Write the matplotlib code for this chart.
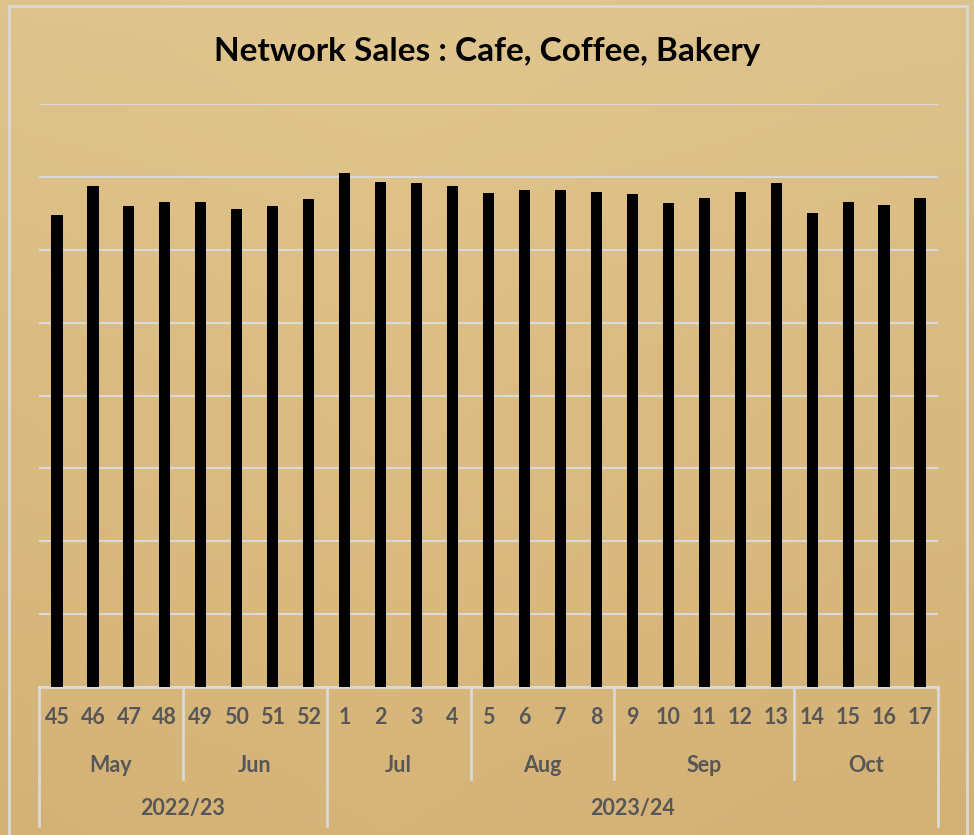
import numpy as np
import matplotlib
matplotlib.use('Agg')
import matplotlib.pyplot as plt
from matplotlib.lines import Line2D

plt.rcParams['font.family'] = ['Lato', 'DejaVu Sans']

# data
weeks = ['45', '46', '47', '48', '49', '50', '51', '52', '1', '2', '3', '4', '5',
         '6', '7', '8', '9', '10', '11', '12', '13', '14', '15', '16', '17']
sales = [6.47, 6.87, 6.60, 6.65, 6.66, 6.56, 6.60, 6.70, 7.06, 6.93, 6.92, 6.88, 6.78,
         6.82, 6.82, 6.79, 6.77, 6.64, 6.71, 6.79, 6.91, 6.51, 6.65, 6.61, 6.71]
months = ['May', 'Jun', 'Jul', 'Aug', 'Sep', 'Oct']
month_weeks = [4, 4, 4, 4, 5, 4]
years = ['2022/23', '2023/24']
year_weeks = [8, 17]

W, H = 974, 835
label_col = '#575757'
line_col = '#D9D9D9'

fig = plt.figure(figsize=(W / 100, H / 100), dpi=100)

# parchment-like background
bg = fig.add_axes([0, 0, 1, 1], zorder=-5)
top = np.array([224, 198, 142]) / 255
bot = np.array([215, 180, 120]) / 255
t = np.linspace(0, 1, 200)[:, None, None]
s = np.linspace(0, 1, 200)[None, :, None]
grad = top * (1 - t) + bot * t
grad = grad * (1 - 0.03 * np.abs(s - 0.4))
bg.imshow(np.clip(grad, 0, 1), aspect='auto', extent=[0, 1, 0, 1])
bg.axis('off')

# outer border
fig.add_artist(plt.Rectangle((9 / W, -0.01), (967 - 9) / W, 1 - 6 / H + 0.01,
                             transform=fig.transFigure, fill=False,
                             edgecolor=line_col, lw=2))

x0, x1, y_base, y_top = 39, 938, 687, 104
ax = fig.add_axes([x0 / W, 1 - y_base / H, (x1 - x0) / W, (y_base - y_top) / H])
ax.patch.set_alpha(0)

n = len(weeks)
xs = np.arange(n)
ax.bar(xs, sales, width=0.31, color='black', zorder=3)
ax.set_xlim(-0.5, n - 0.5)
ax.set_ylim(0, 8)
ax.set_yticks(range(0, 9))
ax.grid(axis='y', color=line_col, lw=1.5, zorder=0)
ax.tick_params(left=False, labelleft=False, bottom=False, labelbottom=False)
for sp in ['top', 'right', 'left']:
    ax.spines[sp].set_visible(False)
ax.spines['bottom'].set_color(line_col)
ax.spines['bottom'].set_linewidth(2)

ah = y_base - y_top
def ay(py):
    return (y_base - py) / ah

tr = ax.get_xaxis_transform()
fs = 15.5

for i, w in enumerate(weeks):
    ax.text(i, ay(718), w, transform=tr, ha='center', va='center',
            fontsize=fs, fontweight='bold', color=label_col)

# month grouping
pos = 0
edges = [0]
for m, c in zip(months, month_weeks):
    ax.text(pos + c / 2 - 0.5, ay(765), m, transform=tr, ha='center', va='center',
            fontsize=fs, fontweight='bold', color=label_col)
    pos += c
    edges.append(pos)
for e in edges:
    ax.add_line(Line2D([e - 0.5, e - 0.5], [0, ay(779)], transform=tr,
                       color=line_col, lw=2, clip_on=False))

# year grouping
pos = 0
yedges = [0]
for yv, c in zip(years, year_weeks):
    ax.text(pos + c / 2 - 0.5, ay(808), yv, transform=tr, ha='center', va='center',
            fontsize=fs, fontweight='bold', color=label_col)
    pos += c
    yedges.append(pos)
for e in yedges:
    ax.add_line(Line2D([e - 0.5, e - 0.5], [ay(779), ay(826)], transform=tr,
                       color=line_col, lw=2, clip_on=False))

fig.text(0.5, 1 - 52 / H, 'Network Sales : Cafe, Coffee, Bakery', ha='center',
         va='center', fontsize=24, fontweight='bold', color='black')

fig.savefig('out.png', dpi=100)
